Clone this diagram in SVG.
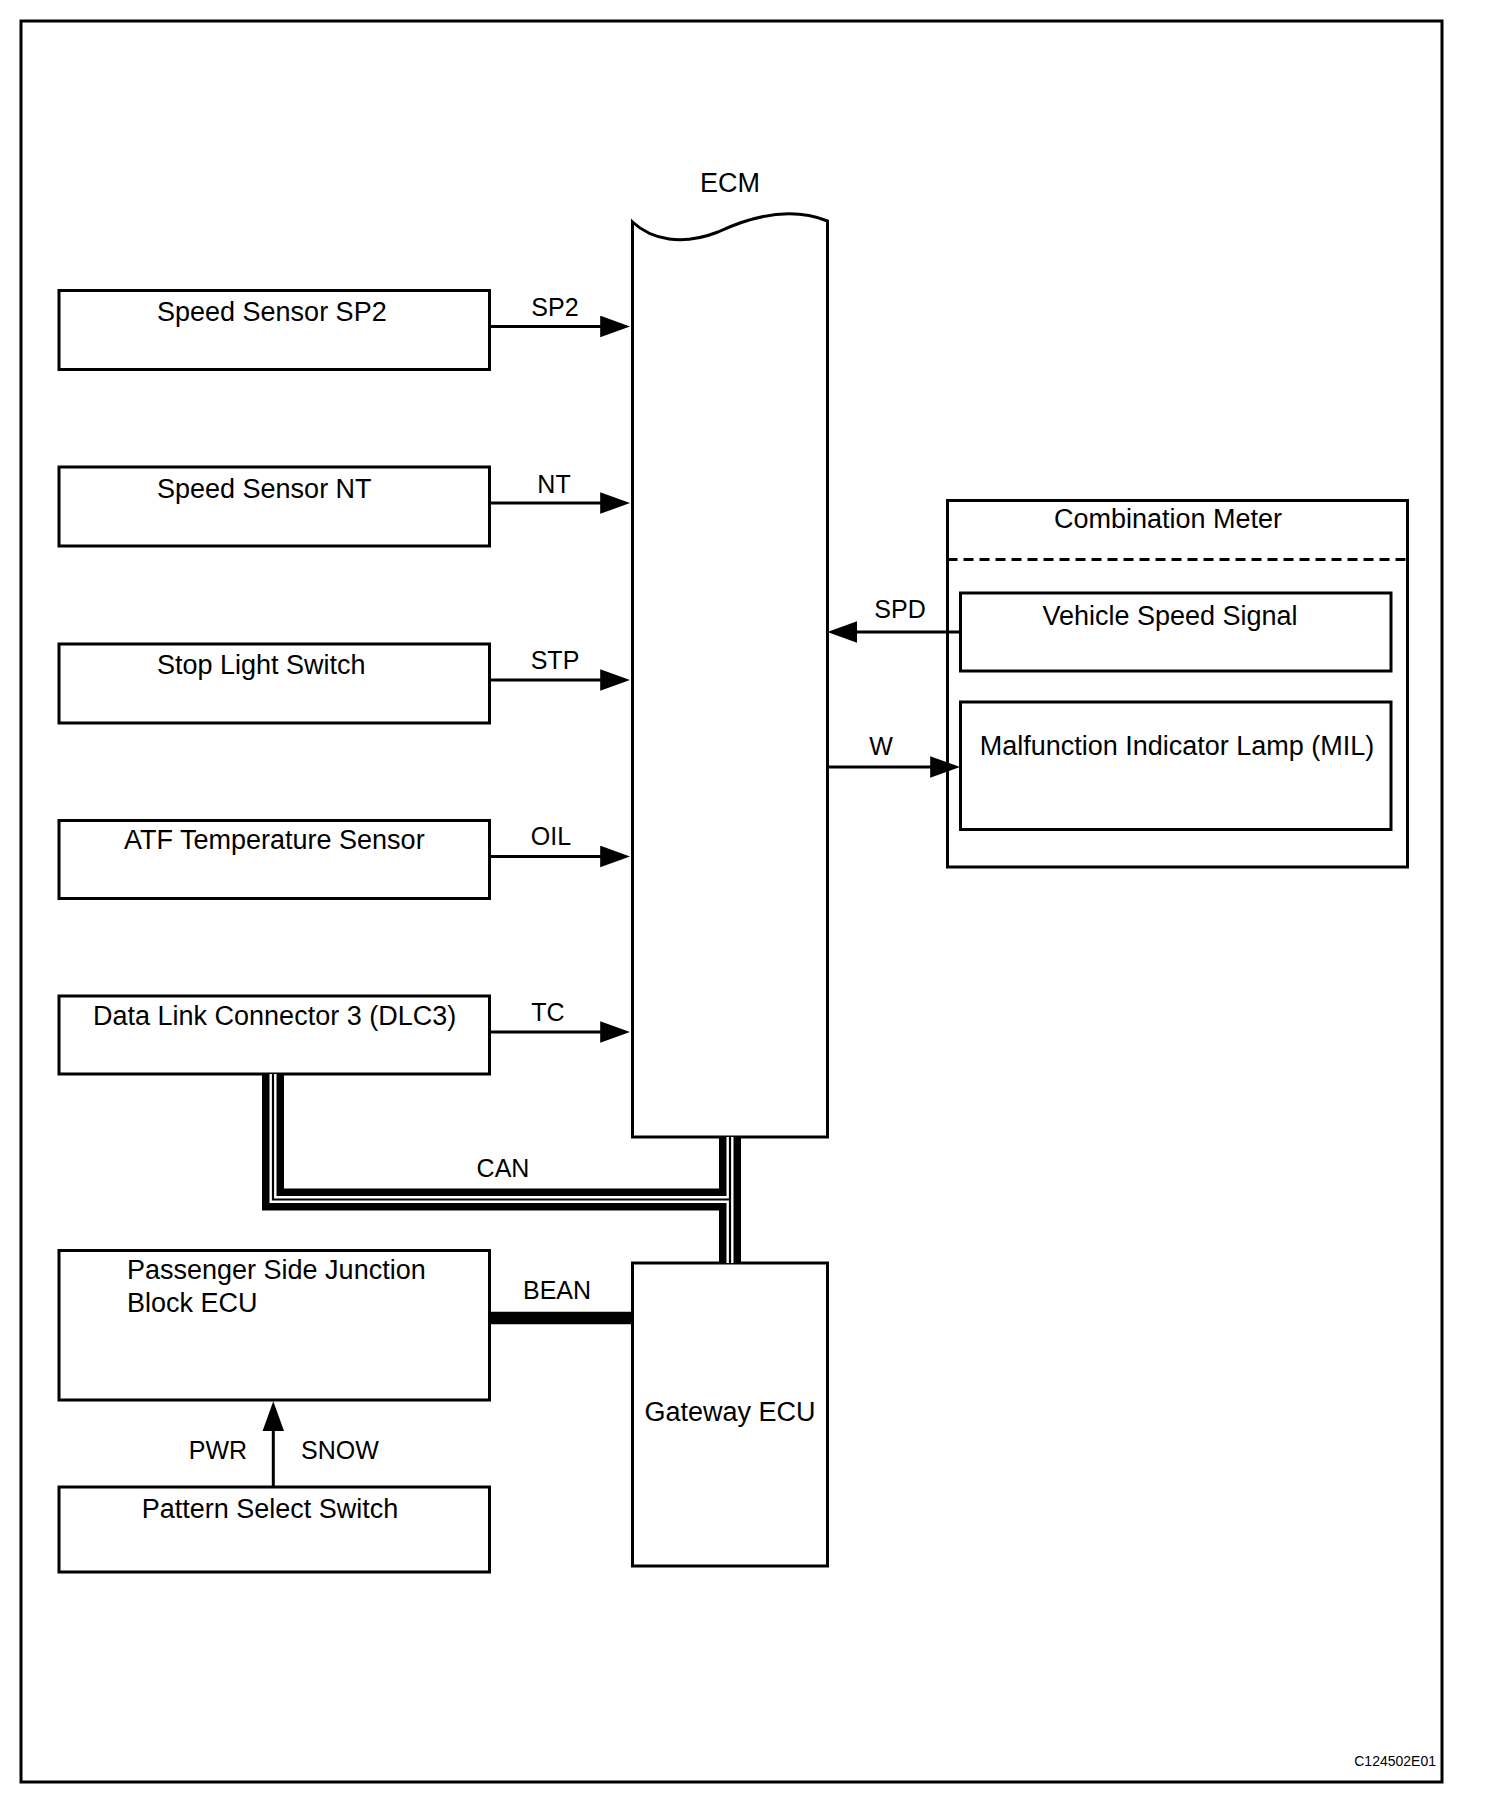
<svg xmlns="http://www.w3.org/2000/svg" width="1504" height="1818" viewBox="0 0 1504 1818">
<style>
  .box { fill: #fff; stroke: #000; stroke-width: 3; }
  .frame { fill: #fff; stroke: #000; stroke-width: 3; }
  .t { font-family: "Liberation Sans", Arial, sans-serif; font-size: 27px; fill: #000; }
  .lbl { font-family: "Liberation Sans", Arial, sans-serif; font-size: 25px; fill: #000; }
  .mid { text-anchor: middle; }
  .wire { stroke: #000; stroke-width: 3; fill: none; }
  .busB { stroke: #000; stroke-width: 22; fill: none; stroke-linejoin: miter; }
  .busW { stroke: #fff; stroke-width: 7; fill: none; stroke-linejoin: miter; }
  .busT { stroke: #000; stroke-width: 2.2; fill: none; stroke-linejoin: miter; }
</style>
<defs>
  <marker id="arr" markerUnits="userSpaceOnUse" markerWidth="30" markerHeight="22" viewBox="0 0 29 21" refX="24" refY="10.5" orient="auto">
    <path d="M0,0 L29,10.5 L0,21 Z" fill="#000"/>
  </marker>
</defs>
<rect x="0" y="0" width="1504" height="1818" fill="#fff"/>
<rect id="frame" class="frame" x="21" y="21" width="1421" height="1761"/>

<g id="ecm">
  <path class="box" d="M632.5,1137 V222 C652,240 682,246 718,232 C752,216 790,206 827.5,221 V1137 Z"/>
  <text class="t mid" x="730" y="192">ECM</text>
</g>

<g id="sp2">
  <rect class="box" x="59" y="290.5" width="430.5" height="79"/>
  <text class="t" x="157" y="321">Speed Sensor SP2</text>
</g>
<g id="nt">
  <rect class="box" x="59" y="467" width="430.5" height="79"/>
  <text class="t" x="157" y="498">Speed Sensor NT</text>
</g>
<g id="stp">
  <rect class="box" x="59" y="644" width="430.5" height="79"/>
  <text class="t" x="157" y="674">Stop Light Switch</text>
</g>
<g id="atf">
  <rect class="box" x="59" y="820.5" width="430.5" height="78"/>
  <text class="t" x="124" y="849">ATF Temperature Sensor</text>
</g>
<g id="dlc3">
  <rect class="box" x="59" y="996" width="430.5" height="78"/>
  <text class="t" x="93" y="1025">Data Link Connector 3 (DLC3)</text>
</g>

<g id="combination-meter">
  <rect class="box" x="947.5" y="500.5" width="460" height="366.5"/>
  <line x1="947.5" y1="559.5" x2="1407.5" y2="559.5" stroke="#000" stroke-width="3" stroke-dasharray="10 6"/>
  <text class="t mid" x="1168" y="528">Combination Meter</text>
</g>
<g id="vehicle-speed-signal">
  <rect class="box" x="960.5" y="593" width="430.5" height="78"/>
  <text class="t mid" x="1170" y="625">Vehicle Speed Signal</text>
</g>
<g id="mil">
  <rect class="box" x="960.5" y="702" width="430.5" height="127.5"/>
  <text class="t mid" x="1177" y="755">Malfunction Indicator Lamp (MIL)</text>
</g>

<g id="psjb-ecu">
  <rect class="box" x="59" y="1250.5" width="430.5" height="149.5"/>
  <text class="t" x="127" y="1279">Passenger Side Junction</text>
  <text class="t" x="127" y="1312">Block ECU</text>
</g>
<g id="pattern-select-switch">
  <rect class="box" x="59" y="1487" width="430.5" height="85"/>
  <text class="t mid" x="270" y="1518">Pattern Select Switch</text>
</g>
<g id="gateway-ecu">
  <rect class="box" x="632.5" y="1263" width="195" height="303"/>
  <text class="t mid" x="730" y="1421">Gateway ECU</text>
</g>

<g id="connectors">
  <line class="wire" x1="489.5" y1="326.5" x2="625" y2="326.5" marker-end="url(#arr)"/>
  <line class="wire" x1="489.5" y1="503" x2="625" y2="503" marker-end="url(#arr)"/>
  <line class="wire" x1="489.5" y1="680" x2="625" y2="680" marker-end="url(#arr)"/>
  <line class="wire" x1="489.5" y1="856.5" x2="625" y2="856.5" marker-end="url(#arr)"/>
  <line class="wire" x1="489.5" y1="1032" x2="625" y2="1032" marker-end="url(#arr)"/>
  <line class="wire" x1="962" y1="632" x2="832.5" y2="632" marker-end="url(#arr)"/>
  <line class="wire" x1="827.5" y1="767" x2="955" y2="767" marker-end="url(#arr)"/>
  <line class="wire" x1="273.3" y1="1487" x2="273.3" y2="1406.5" marker-end="url(#arr)"/>
  <line x1="489.5" y1="1318" x2="632.5" y2="1318" stroke="#000" stroke-width="12.6"/>
  <path class="busB" d="M273,1074 V1199.5 H730"/>
  <path class="busB" d="M730,1137 V1263"/>
  <path class="busW" d="M273,1074 V1199.5 H730"/>
  <path class="busW" d="M730,1137 V1263"/>
  <path class="busT" d="M273,1074 V1199.5 H730"/>
  <path class="busT" d="M730,1137 V1263"/>
  <text class="lbl mid" x="555" y="316">SP2</text>
  <text class="lbl mid" x="554" y="493">NT</text>
  <text class="lbl mid" x="555" y="669">STP</text>
  <text class="lbl mid" x="551" y="845">OIL</text>
  <text class="lbl mid" x="548" y="1021">TC</text>
  <text class="lbl mid" x="900" y="618">SPD</text>
  <text class="lbl mid" x="881" y="755">W</text>
  <text class="lbl mid" x="503" y="1177">CAN</text>
  <text class="lbl mid" x="557" y="1299">BEAN</text>
  <text class="lbl mid" x="218" y="1459">PWR</text>
  <text class="lbl mid" x="340" y="1459">SNOW</text>
</g>
<text x="1436" y="1766" font-family="Liberation Sans, Arial, sans-serif" font-size="14" text-anchor="end" fill="#000">C124502E01</text>
</svg>
